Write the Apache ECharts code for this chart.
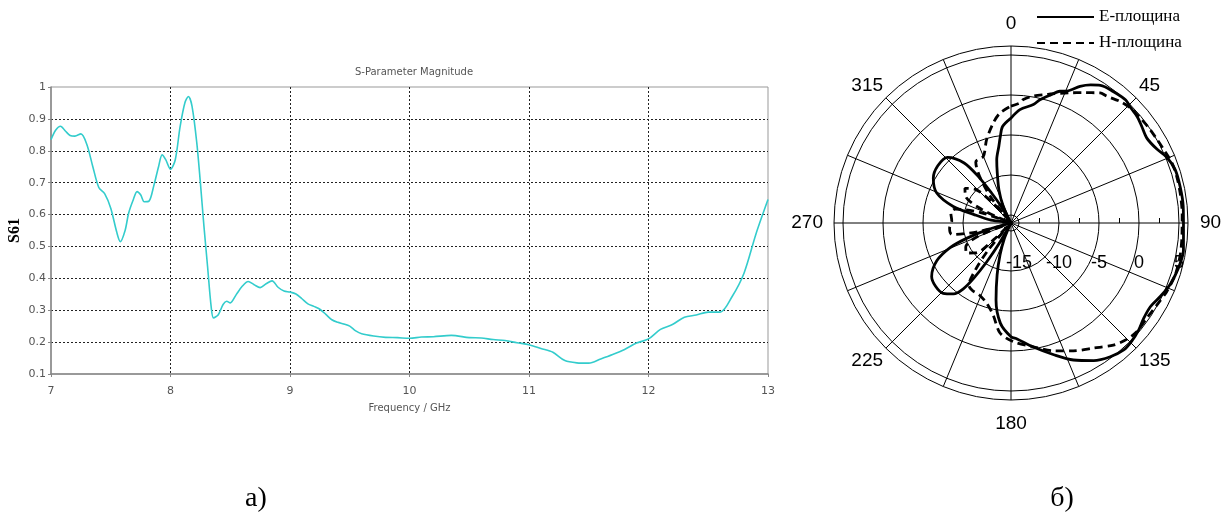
<!DOCTYPE html>
<html>
<head>
<meta charset="utf-8">
<script src="https://cdn.jsdelivr.net/npm/echarts@6/dist/echarts.min.js"></script>
<style>
  html, body { margin: 0; padding: 0; background: #fff; }
  #chart { width: 1231px; height: 517px; }
</style>
</head>
<body>
<div id="chart"></div>
<script>
// --- S61 magnitude vs frequency (panel а) ---
const freqGHz = [7.0, 7.04, 7.08, 7.12, 7.16, 7.2, 7.25, 7.3, 7.35, 7.4, 7.45, 7.5, 7.55, 7.58, 7.62, 7.65,
  7.69, 7.72, 7.75, 7.78, 7.82, 7.86, 7.9, 7.93, 7.96, 8.0, 8.04, 8.08, 8.12, 8.15, 8.18, 8.22, 8.25, 8.28,
  8.31, 8.34, 8.36, 8.4, 8.44, 8.47, 8.5, 8.55, 8.6, 8.65, 8.7, 8.75, 8.8, 8.85, 8.9, 8.95, 9.0, 9.05, 9.1,
  9.15, 9.2, 9.25, 9.3, 9.35, 9.4, 9.45, 9.5, 9.55, 9.6, 9.7, 9.8, 9.9, 10.0, 10.1, 10.2, 10.35, 10.5, 10.6,
  10.7, 10.8, 10.9, 11.0, 11.1, 11.2, 11.3, 11.4, 11.5, 11.6, 11.7, 11.8, 11.9, 12.0, 12.1, 12.2, 12.3, 12.4,
  12.5, 12.6, 12.7, 12.8, 12.9, 13.0];
const s61 = [0.835, 0.865, 0.877, 0.862, 0.848, 0.846, 0.853, 0.82, 0.75, 0.685, 0.665, 0.62, 0.545, 0.515,
  0.55, 0.605, 0.648, 0.672, 0.662, 0.64, 0.642, 0.69, 0.75, 0.787, 0.772, 0.742, 0.772, 0.875, 0.95, 0.97,
  0.94, 0.825, 0.7, 0.563, 0.438, 0.312, 0.276, 0.286, 0.318, 0.328, 0.323, 0.349, 0.375, 0.39, 0.38, 0.371,
  0.383, 0.392, 0.372, 0.36, 0.357, 0.351, 0.336, 0.32, 0.312, 0.303, 0.287, 0.27, 0.262, 0.257, 0.25, 0.235,
  0.226, 0.219, 0.215, 0.214, 0.212, 0.216, 0.217, 0.221, 0.214, 0.213, 0.208, 0.205, 0.198, 0.192, 0.18,
  0.168, 0.142, 0.135, 0.134, 0.147, 0.161, 0.177, 0.197, 0.21, 0.24, 0.255, 0.278, 0.285, 0.294, 0.294,
  0.343, 0.417, 0.54, 0.647];

// --- Radiation pattern, dB vs azimuth in degrees (panel б) ---
const eAngle = [0, 4.5, 10.7, 13.2, 17, 20.4, 23, 26.8, 30, 33, 38, 43, 46, 50, 53.5, 58, 63, 67, 72, 78,
  84.5, 92, 99, 105, 111, 116, 121, 125.7, 130, 134.5, 138.4, 143.4, 149, 155.5, 162, 170, 177, 180, 186,
  191, 195, 199, 203, 206, 208, 210, 212, 214, 216, 219, 224, 230, 236, 243, 248, 251, 254, 257, 260, 275,
  278, 283, 286, 292, 300, 308, 316, 322, 325, 327, 329, 331, 335, 340, 344.7, 347.3, 351, 353, 355, 360];
const eGain = [-2.9, -1.8, -0.95, -0.2, 0.7, 1.55, 1.9, 3.1, 3.9, 4.5, 4.8, 5.0, 4.75, 4.6, 4.3, 4.0, 4.4,
  5.1, 5.55, 5.6, 5.6, 5.55, 5.8, 5.65, 5.3, 4.8, 4.3, 4.4, 4.8, 5.1, 5.2, 4.8, 4.05, 2.8, 1.3, -0.3, -1.5,
  -1.8, -3.4, -6.2, -9.3, -11.8, -13.8, -15.5, -16, -13, -10.3, -7.7, -5.8, -4.6, -3.8, -3.7, -4.05, -5.6,
  -7.8, -10.2, -12.8, -15.5, -16, -16, -13.5, -11.2, -8.5, -6, -4.8, -4.4, -4.6, -6.5, -9, -11.5, -13.5,
  -16, -13.7, -11.6, -9.5, -7.9, -6.3, -5.1, -3.9, -2.9];
const hAngle = [0, 4.3, 5.7, 10, 15.5, 17, 24.4, 29, 34.4, 37, 42, 46, 51, 55, 60, 65, 69.5, 74, 80, 87, 94,
  100.6, 107.5, 113.7, 119.3, 125, 131, 135, 140, 146.6, 154, 161.7, 169.8, 179, 185.7, 191, 197, 204, 210,
  214, 217, 220, 223, 226, 230, 236, 242, 248, 252, 255, 259, 265, 272, 279, 284, 289, 292, 295, 300, 307,
  313, 318, 320, 322, 326, 330, 337.4, 343.7, 350, 354.3, 360];
const hGain = [-1.4, -0.96, -0.5, 0.1, 0.65, 0.85, 1.85, 2.6, 3.7, 3.84, 4.4, 4.7, 4.8, 4.9, 5.0, 5.2, 5.45,
  5.5, 5.45, 5.4, 5.4, 5.5, 5.5, 5.25, 4.9, 4.7, 4.75, 4.5, 3.9, 2.7, 1.76, 0.8, -0.3, -1.2, -2.2, -4.3,
  -5.55, -6.2, -6.3, -6.6, -8.5, -11.5, -16, -13, -10.2, -9.3, -9.6, -11.5, -16, -12, -8.5, -8.3, -8.6,
  -8.4, -8.8, -12, -16, -12, -9.5, -8.8, -9.8, -13, -16, -12, -9, -7.2, -7.0, -5.15, -3.3, -2.2, -1.4];

const seriesNames = ['E-площина', 'H-площина'];
const panelCaptions = ['а)', 'б)'];

const zip = (r, a) => r.map((v, i) => [v, a[i]]);

const chart = echarts.init(document.getElementById('chart'), null, { renderer: 'canvas' });

const tahoma = 'DejaVu Sans';
const arial = 'Liberation Sans';
const times = 'Liberation Serif';
const angleFont = { fontFamily: arial, fontSize: 19, color: '#000' };

// Compass labels every 45°, nudged outward on the cardinal directions
function angleLabel(v) {
  if (v % 45 !== 0 || v >= 360) return '';
  const cardinal = { 0: 'n', 90: 'e', 180: 's', 270: 'w' }[v];
  return cardinal ? '{' + cardinal + '|' + v + '}' : '{d|' + v + '}';
}

chart.setOption({
  animation: false,
  backgroundColor: '#fff',
  title: [
    { text: 'S-Parameter Magnitude', left: 409, top: 62, textAlign: 'center',
      textStyle: { fontFamily: tahoma, fontSize: 10, fontWeight: 'normal', color: '#555' } },
    { text: panelCaptions[0], left: 251, top: 480, textAlign: 'center',
      textStyle: { fontFamily: times, fontSize: 28, fontWeight: 'normal', color: '#000' } },
    { text: panelCaptions[1], left: 1057, top: 480, textAlign: 'center',
      textStyle: { fontFamily: times, fontSize: 28, fontWeight: 'normal', color: '#000' } }
  ],
  legend: {
    data: seriesNames,
    orient: 'vertical',
    left: 1031,
    top: 3,
    itemWidth: 57,
    itemHeight: 18,
    itemGap: 8,
    itemStyle: { opacity: 0, borderWidth: 0 },
    textStyle: { fontFamily: times, fontSize: 17, color: '#000', lineHeight: 18 }
  },
  grid: {
    left: 51, top: 87, width: 717, height: 287,
    outerBoundsMode: 'none', containLabel: false,
    show: true, borderColor: '#999', borderWidth: 1, backgroundColor: '#fff'
  },
  xAxis: {
    type: 'value', min: 7, max: 13, interval: 1,
    name: 'Frequency / GHz', nameLocation: 'middle', nameGap: 29,
    nameTextStyle: { fontFamily: tahoma, fontSize: 10, color: '#555' },
    axisLine: { lineStyle: { color: '#888', width: 1.5 } },
    axisTick: { length: 3, lineStyle: { color: '#888' } },
    axisLabel: { fontFamily: tahoma, fontSize: 11, color: '#555', margin: 12 },
    splitLine: { show: true, showMinLine: false, showMaxLine: false,
      lineStyle: { color: '#222', type: [2, 2], width: 1 } }
  },
  yAxis: {
    type: 'value', min: 0.1, max: 1, interval: 0.1,
    name: 'S61', nameLocation: 'middle', nameGap: 28, nameRotate: 90, nameMoveOverlap: false,
    nameTextStyle: { fontFamily: times, fontSize: 16, fontWeight: 'bold', color: '#000' },
    axisLine: { show: true, lineStyle: { color: '#888', width: 1.5 } },
    axisTick: { show: true, length: 3, lineStyle: { color: '#888' } },
    axisLabel: { fontFamily: tahoma, fontSize: 11, color: '#555', margin: 5,
      formatter: v => String(+v.toFixed(1)) },
    splitLine: { show: true, showMinLine: false, showMaxLine: false,
      lineStyle: { color: '#222', type: [2, 2], width: 1 } }
  },
  polar: [
    { center: [1011, 223], radius: 177 },
    { center: [1011, 223], radius: [8, 168] }
  ],
  angleAxis: [
    {
      polarIndex: 0, type: 'value', min: 0, max: 360, interval: 22.5,
      startAngle: 90, clockwise: true,
      axisLine: { show: true, lineStyle: { color: '#000', width: 1 } },
      axisTick: { show: false },
      splitLine: { show: true, lineStyle: { color: '#000', width: 1 } },
      axisLabel: {
        show: true, margin: 4, ...angleFont,
        formatter: angleLabel,
        rich: {
          n: { ...angleFont, padding: [0, 0, 9, 0] },
          e: { ...angleFont, padding: [0, 0, 0, 8] },
          s: { ...angleFont, padding: [10, 0, 0, 0] },
          w: { ...angleFont, padding: [0, 7, 0, 0] },
          d: { ...angleFont }
        }
      }
    },
    { polarIndex: 1, type: 'value', min: 0, max: 360, startAngle: 0, show: false }
  ],
  radiusAxis: [
    {
      polarIndex: 0, type: 'value', min: -16, max: 6.1,
      axisLine: { show: false }, axisTick: { show: false },
      axisLabel: { show: false }, splitLine: { show: false }
    },
    {
      polarIndex: 1, type: 'value', min: -15, max: 5, interval: 5,
      axisLine: { show: false },
      axisTick: { show: false, inside: true },
      minorTick: { show: true, splitNumber: 2, length: 5, lineStyle: { color: '#000', width: 1 } },
      axisLabel: { show: true, margin: -40, align: 'center', verticalAlign: 'middle',
        fontFamily: arial, fontSize: 18, color: '#000' },
      splitLine: { show: true, lineStyle: { color: '#000', width: 1 } }
    }
  ],
  series: [
    {
      name: 'S61', type: 'line', xAxisIndex: 0, yAxisIndex: 0,
      data: zip(freqGHz, s61), showSymbol: false, symbol: 'none', smooth: 0.3,
      lineStyle: { color: '#33CCCC', width: 1.6 }, itemStyle: { color: '#33CCCC' }
    },
    {
      name: seriesNames[0], type: 'line', coordinateSystem: 'polar', polarIndex: 0,
      data: zip(eGain, eAngle), symbol: 'none', smooth: 0.3,
      lineStyle: { color: '#000', width: 2.8 }, itemStyle: { color: '#000' }, z: 5
    },
    {
      name: seriesNames[1], type: 'line', coordinateSystem: 'polar', polarIndex: 0,
      data: zip(hGain, hAngle), symbol: 'none', smooth: 0.3,
      lineStyle: { color: '#000', width: 2.8, type: [8, 5] }, itemStyle: { color: '#000' }, z: 5
    }
  ]
});
</script>
</body>
</html>
